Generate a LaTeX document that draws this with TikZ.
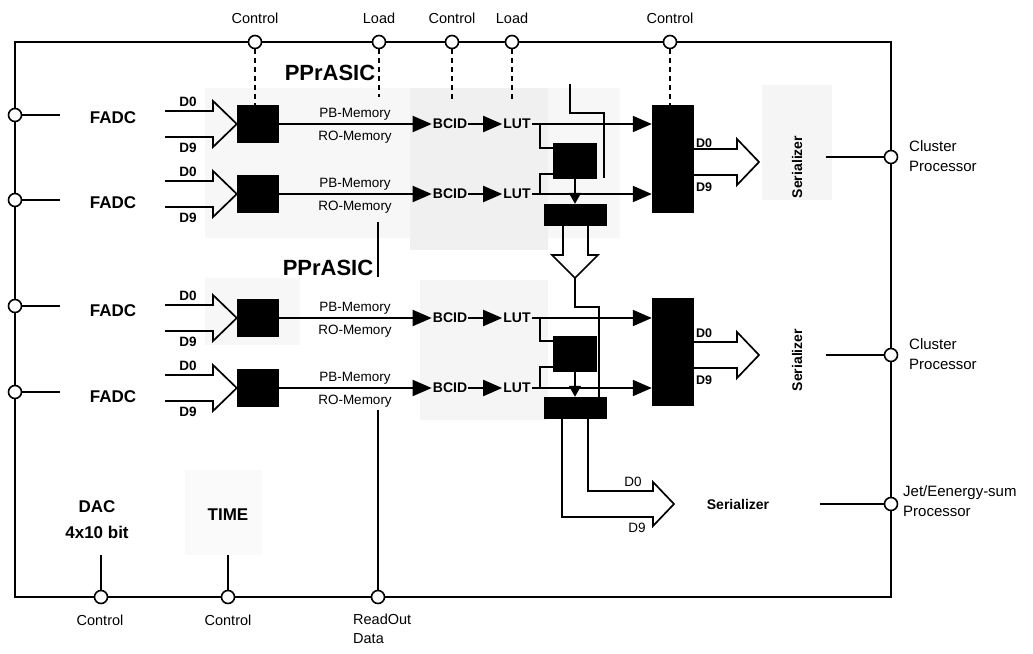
\documentclass[tikz,border=0pt]{standalone}
\usepackage{fontspec}
\setmainfont{Liberation Sans}
\usetikzlibrary{arrows.meta,calc}
\newcommand{\myfs}[2]{\fontsize{#1}{#2}\selectfont}
\begin{document}
\begin{tikzpicture}[x=1pt,y=-1pt,line join=miter,
  pin/.style={circle,draw,fill=white,line width=1.6pt,minimum size=13pt,inner sep=0pt},
  blk/.style={fill=black,inner sep=0pt},
  frm/.style={line width=1.6pt},
  sig/.style={line width=1.9pt},
  fine/.style={line width=1.6pt},
  arr/.style={line width=1.9pt,-{Triangle[length=19pt,width=16pt]}},
  sarr/.style={line width=1.6pt,-{Triangle[length=11pt,width=12pt]}},
  dsh/.style={line width=1.4pt,dash pattern=on 5pt off 4pt},
  harrow/.style={line width=1.7pt},
  rtxt/.style={font=\myfs{14.5}{17},inner sep=1pt},
  mtxt/.style={font=\myfs{13.5}{16},inner sep=1pt},
  ptxt/.style={font=\myfs{15}{20},inner sep=1pt,align=left,anchor=west},
  btxt/.style={font=\bfseries\myfs{17}{26},inner sep=1pt,align=center},
  dtxt/.style={font=\bfseries\myfs{13.5}{15},inner sep=1pt},
  ctxt/.style={font=\bfseries\myfs{14}{16},inner sep=1pt},
  stxt/.style={font=\bfseries\myfs{14}{16},inner sep=1pt},
  atxt/.style={font=\bfseries\myfs{22}{24},inner sep=1pt}]
\useasboundingbox (0,0) rectangle (1033,653);
% halftone-like shading
\fill[gray!6] (205,88) rectangle (620,238);
\fill[gray!12] (410,88) rectangle (548,250);
\fill[gray!8] (762,85) rectangle (832,200);
\fill[gray!6] (205,278) rectangle (300,345);
\fill[gray!8] (420,280) rectangle (548,420);
\fill[gray!4] (185,470) rectangle (262,555);
% frame
\draw[frm] (15,42) rectangle (891,597);
% top pins
\node[pin] (tc1) at (255,42) {};
\node[pin] (tl1) at (379,42) {};
\node[pin] (tc2) at (452,42) {};
\node[pin] (tl2) at (512,42) {};
\node[pin] (tc3) at (670,42) {};
\node[rtxt] at (255,18) {Control};
\node[rtxt] at (379,18) {Load};
\node[rtxt] at (452,18) {Control};
\node[rtxt] at (512,18) {Load};
\node[rtxt] at (670,18) {Control};
% PPrASIC labels
\node[atxt] at (330,73) {PPrASIC};
\node[atxt] at (328,268) {PPrASIC};
% left pins and FADC
\foreach \i/\p/\f in {1/115/118,2/200/203,3/306/311,4/392/397}{
  \node[pin] (lp\i) at (15,\p) {};
  \coordinate (lf\i) at (60,\p);
  \draw[sig] (lp\i) -- (lf\i);
  \node[btxt] (fa\i) at (113,\f) {FADC};
}
% channel rows
\foreach \i/\r in {1/124,2/194,3/318,4/388}{
  \node[blk,minimum width=42pt,minimum height=38pt] (m\i) at (258,\r) {};
  \draw[harrow] (165,\r-13) -- (213,\r-13) -- (213,\r-23) -- (m\i.west) -- (213,\r+23) -- (213,\r+13) -- (165,\r+13);
  \node[dtxt] at (188,\r-22) {D0};
  \node[dtxt] at (188,\r+24) {D9};
  \node[mtxt] at (355,\r-10) {PB-Memory};
  \node[mtxt] at (355,\r+13) {RO-Memory};
  \node[ctxt] (bc\i) at (450,\r) {BCID};
  \node[ctxt] (lu\i) at (517,\r) {LUT};
  \draw[arr] (m\i.east) -- (bc\i.west);
  \draw[arr] (bc\i.east) -- (lu\i.west);
}
% big boxes
\node[blk,minimum width=42pt,minimum height=108pt] (bb1) at (673,159) {};
\node[blk,minimum width=42pt,minimum height=108pt] (bb2) at (673,352) {};
\draw[arr] (lu1.east) -- (lu1.east -| bb1.west);
\draw[arr] (lu2.east) -- (lu2.east -| bb1.west);
\draw[arr] (lu3.east) -- (lu3.east -| bb2.west);
\draw[arr] (lu4.east) -- (lu4.east -| bb2.west);
% small and wide boxes
\node[blk,minimum width=44pt,minimum height=36pt] (sb1) at (575,161) {};
\node[blk,minimum width=44pt,minimum height=36pt] (sb2) at (575,354) {};
\node[blk,minimum width=63pt,minimum height=22pt] (wb1) at (575,215) {};
\node[blk,minimum width=63pt,minimum height=22pt] (wb2) at (575,408) {};
\coordinate (j1) at (540,124);
\coordinate (j2) at (540,194);
\coordinate (j3) at (540,318);
\coordinate (j4) at (540,388);
\draw[fine] (j1) |- ([yshift=-5pt]sb1.north west);
\draw[fine] (j2) |- ([yshift=5pt]sb1.south west);
\draw[fine] (j3) |- ([yshift=-5pt]sb2.north west);
\draw[fine] (j4) |- ([yshift=5pt]sb2.south west);
\draw[sarr] (sb1.south) -- (wb1.north);
\draw[sarr] (sb2.south) -- (wb2.north);
% feed lines
\coordinate (fa) at (570,84);
\coordinate (fb) at (604,178);
\draw[fine] (fa) -- (570,113) -| (fb);
\coordinate (ha) at (575,278);
\draw[harrow] (563,226) -- (563,255) -- (552,255) -- (ha) -- (598,255) -- (588,255) -- (588,226);
\draw[fine] (ha) -- (575,307) -| ($(wb2.north)+(24,0)$);
% lower output block arrow to jet serializer
\draw[harrow] (588,419) -- (588,491) -- (653,491) -- (653,482) -- (674,504) -- (653,526) -- (653,517) -- (562,517) -- (562,419);
\node[mtxt] at (633,482) {D0};
\node[mtxt] at (637,528) {D9};
\node[stxt] (se3) at (738,504) {Serializer};
% outputs from big boxes
\draw[harrow] (694,149) -- (737,149) -- (737,139) -- (759,162) -- (737,185) -- (737,175) -- (694,175);
\draw[harrow] (694,342) -- (737,342) -- (737,332) -- (759,355) -- (737,378) -- (737,368) -- (694,368);
\node[dtxt,font=\bfseries\myfs{12.5}{14}] at (704,143) {D0};
\node[dtxt,font=\bfseries\myfs{12.5}{14}] at (704,187) {D9};
\node[dtxt,font=\bfseries\myfs{12.5}{14}] at (704,333) {D0};
\node[dtxt,font=\bfseries\myfs{12.5}{14}] at (704,380) {D9};
\node[stxt,rotate=90] (se1) at (797,167) {Serializer};
\node[stxt,rotate=90] (se2) at (797,360) {Serializer};
% right pins
\node[pin] (rp1) at (891,157) {};
\node[pin] (rp2) at (891,355) {};
\node[pin] (rp3) at (891,504) {};
\coordinate (so1) at (826,157);
\coordinate (so2) at (826,355);
\coordinate (so3) at (820,504);
\draw[sig] (so1) -- (rp1);
\draw[sig] (so2) -- (rp2);
\draw[sig] (so3) -- (rp3);
\node[ptxt] at (908,156) {Cluster\\Processor};
\node[ptxt] at (908,354) {Cluster\\Processor};
\node[ptxt] at (902,501) {Jet/Eenergy-sum\\Processor};
% dashed control lines
\draw[dsh] (tc1) -- (tc1 |- m1.north);
\coordinate (dl1) at (379,97);
\draw[dsh] (tl1) -- (dl1);
\coordinate (dc2) at (452,103);
\draw[dsh] (tc2) -- (dc2);
\coordinate (dl2) at (512,103);
\draw[dsh] (tl2) -- (dl2);
\draw[dsh] (tc3) -- (tc3 |- bb1.north);
% bottom pins
\node[pin] (bp1) at (101,597) {};
\node[pin] (bp2) at (228,597) {};
\node[pin] (bp3) at (378,597) {};
\node[rtxt] at (100,620) {Control};
\node[rtxt] at (228,620) {Control};
\node[ptxt,font=\myfs{14.5}{19}] at (352,629) {ReadOut\\Data};
\node[btxt] (dac) at (97,520) {DAC\\4x10 bit};
\node[btxt] (time) at (228,515) {TIME};
\coordinate (dac0) at (101,555);
\coordinate (time0) at (228,555);
\draw[sig] (dac0) -- (bp1);
\draw[sig] (time0) -- (bp2);
% readout lines
\coordinate (ro4) at (378,410);
\draw[sig] (ro4) -- (bp3);
\coordinate (ro2a) at (378,222);
\coordinate (ro2b) at (378,277);
\draw[sig] (ro2a) -- (ro2b);
\end{tikzpicture}
\end{document}
